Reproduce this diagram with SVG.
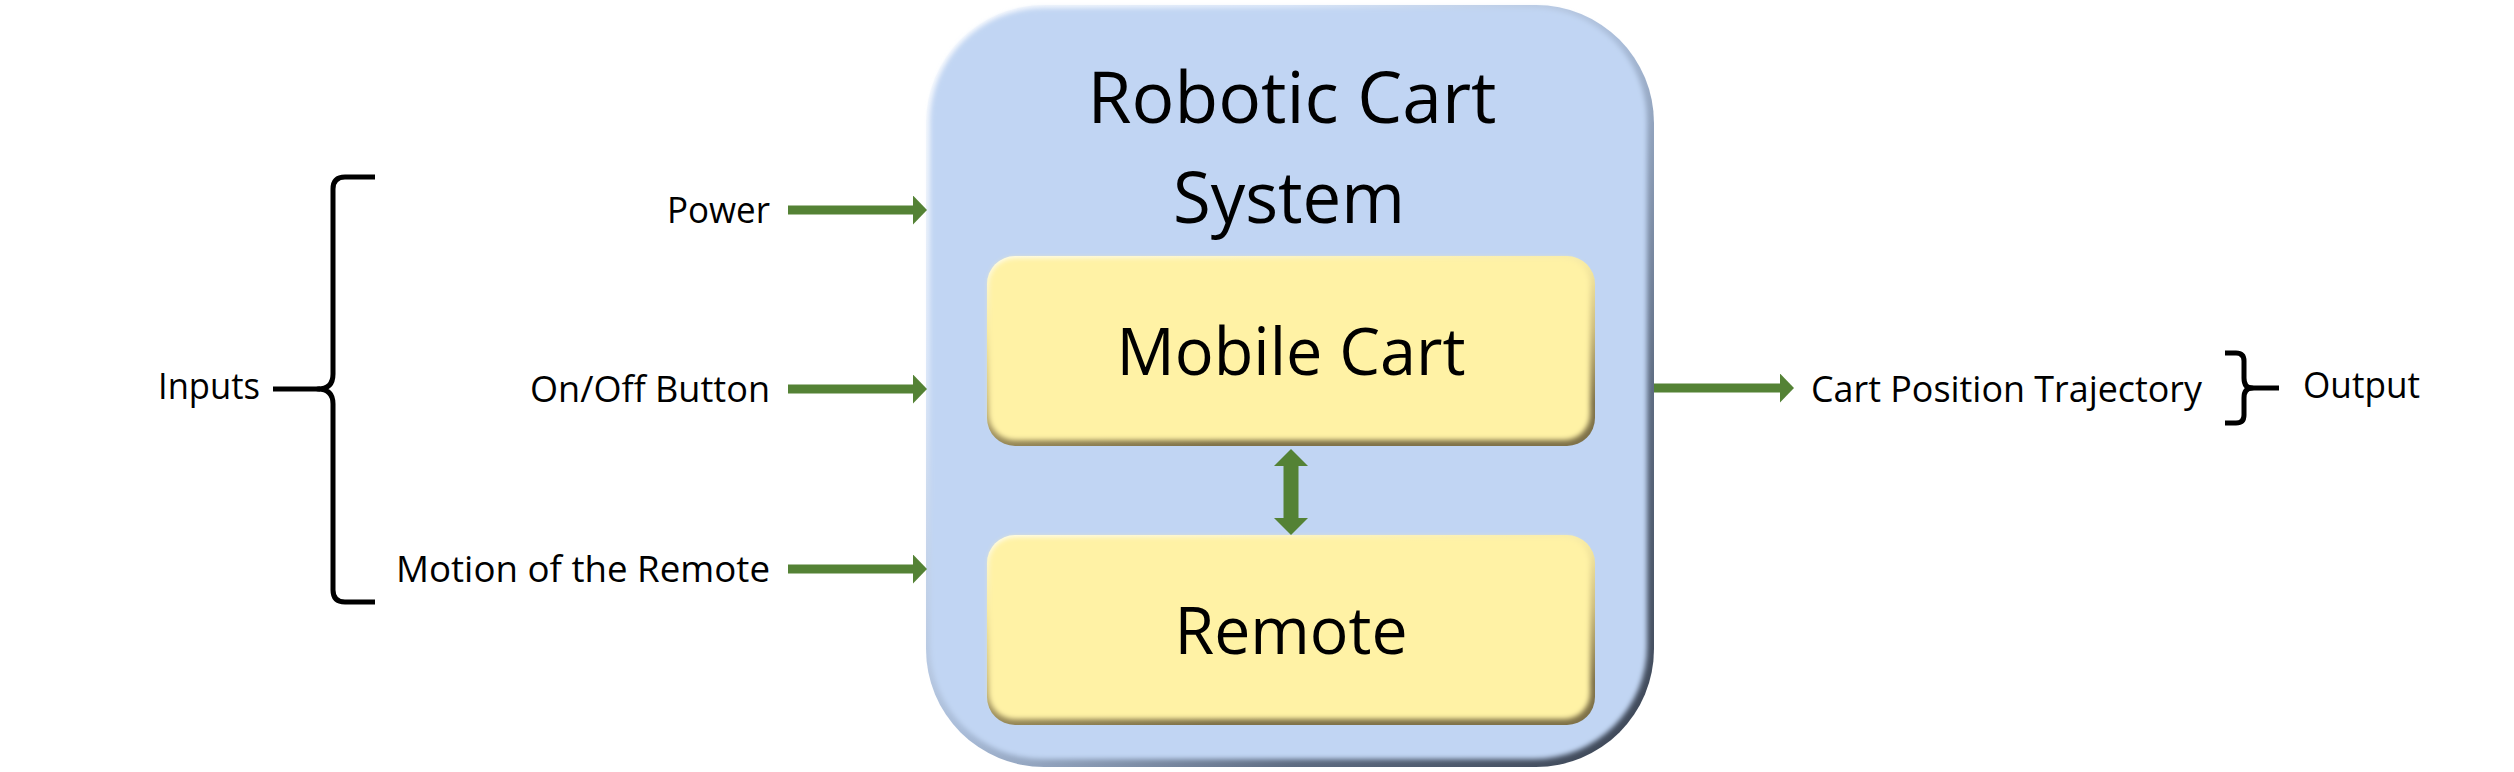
<svg xmlns="http://www.w3.org/2000/svg" width="2514" height="772" viewBox="0 0 2514 772">
<style>
  .lbl { font-family: "Open Sans", "Noto Sans", sans-serif; font-size: 36px; fill: #000; }
  .ttl { font-family: "Open Sans", "Noto Sans", sans-serif; font-size: 71px; fill: #000; }
  .box { font-family: "Open Sans", "Noto Sans", sans-serif; font-size: 66px; fill: #000; }
  .conn { stroke: #548235; stroke-width: 9; fill: none; }
  .brace { stroke: #000; stroke-width: 5; fill: none; stroke-linecap: butt; stroke-linejoin: round; }
</style>
<defs>
  <linearGradient id="gOuter" gradientUnits="objectBoundingBox" x1="0" y1="0" x2="1" y2="1">
    <stop offset="0" stop-color="#FFFFFF"/>
    <stop offset="0.25" stop-color="#DCE7F8"/>
    <stop offset="0.5" stop-color="#A9BCD8"/>
    <stop offset="0.75" stop-color="#5E6C82"/>
    <stop offset="1" stop-color="#3A4352"/>
  </linearGradient>
  <linearGradient id="gInner" gradientUnits="objectBoundingBox" x1="0" y1="0" x2="0.35" y2="1">
    <stop offset="0" stop-color="#FFFFF4"/>
    <stop offset="0.35" stop-color="#F6E9A2"/>
    <stop offset="0.65" stop-color="#CDBD7E"/>
    <stop offset="1" stop-color="#7E7148"/>
  </linearGradient>
  <filter id="soft" x="-5%" y="-5%" width="110%" height="110%">
    <feGaussianBlur stdDeviation="2.5"/>
  </filter>
  <marker id="ah" markerUnits="userSpaceOnUse" markerWidth="14" markerHeight="29" refX="0" refY="14.5" orient="auto" viewBox="0 0 14 29">
    <path d="M0,0 L14,14.5 L0,29 Z" fill="#548235"/>
  </marker>
  <marker id="ah2" markerUnits="userSpaceOnUse" markerWidth="17" markerHeight="34" refX="0" refY="17" orient="auto-start-reverse" viewBox="0 0 17 34">
    <path d="M0,0 L17,17 L0,34 Z" fill="#548235"/>
  </marker>
</defs>
<rect width="2514" height="772" fill="#FFFFFF"/>

<g id="robotic-cart-system">
  <rect x="926" y="5" width="728" height="762" rx="118" fill="url(#gOuter)"/>
  <rect x="930" y="8" width="717" height="751" rx="113" fill="#C1D5F3" filter="url(#soft)"/>
  <text class="ttl" x="1292" y="123" text-anchor="middle" textLength="409" lengthAdjust="spacingAndGlyphs">Robotic Cart</text>
  <text class="ttl" x="1289" y="223" text-anchor="middle" textLength="232" lengthAdjust="spacingAndGlyphs">System</text>
</g>

<g id="mobile-cart">
  <rect x="987" y="256" width="608" height="190" rx="28" fill="url(#gInner)"/>
  <rect x="989" y="258" width="601" height="182" rx="26" fill="#FFF2A5" filter="url(#soft)"/>
  <text class="box" x="1291" y="375" text-anchor="middle" textLength="349" lengthAdjust="spacingAndGlyphs">Mobile Cart</text>
</g>

<g id="remote">
  <rect x="987" y="535" width="608" height="190" rx="28" fill="url(#gInner)"/>
  <rect x="989" y="537" width="601" height="182" rx="26" fill="#FFF2A5" filter="url(#soft)"/>
  <text class="box" x="1291" y="654" text-anchor="middle" textLength="233" lengthAdjust="spacingAndGlyphs">Remote</text>
</g>

<g id="input-labels">
  <text class="lbl" x="770" y="223" text-anchor="end" textLength="103" lengthAdjust="spacingAndGlyphs">Power</text>
  <text class="lbl" x="770" y="402" text-anchor="end" textLength="240" lengthAdjust="spacingAndGlyphs">On/Off Button</text>
  <text class="lbl" x="770" y="582" text-anchor="end" textLength="374" lengthAdjust="spacingAndGlyphs">Motion of the Remote</text>
</g>

<g id="inputs">
  <path class="brace" d="M375,177 L345,177 Q333,177 333,189 L333,374 Q333,389 318,389 Q333,389 333,404 L333,590 Q333,602 345,602 L375,602"/>
  <path class="brace" d="M273,389 L320,389"/>
  <text class="lbl" x="158" y="399" textLength="102" lengthAdjust="spacingAndGlyphs">Inputs</text>
</g>

<g id="output-label">
  <text class="lbl" x="1811" y="402" textLength="391" lengthAdjust="spacingAndGlyphs">Cart Position Trajectory</text>
</g>

<g id="output">
  <path class="brace" d="M2225,353 L2236,353 Q2244,353 2244,361 L2244,378 Q2244,388 2252,388 Q2244,388 2244,398 L2244,415 Q2244,423 2236,423 L2225,423"/>
  <path class="brace" d="M2250,388 L2279,388"/>
  <text class="lbl" x="2303" y="398" textLength="117" lengthAdjust="spacingAndGlyphs">Output</text>
</g>

<g id="connectors">
  <line class="conn" x1="788" y1="210" x2="913" y2="210" marker-end="url(#ah)"/>
  <line class="conn" x1="788" y1="389" x2="913" y2="389" marker-end="url(#ah)"/>
  <line class="conn" x1="788" y1="569" x2="913" y2="569" marker-end="url(#ah)"/>
  <line class="conn" x1="1654" y1="388" x2="1780" y2="388" marker-end="url(#ah)"/>
  <line class="conn" x1="1291" y1="466" x2="1291" y2="518" style="stroke-width:15" marker-start="url(#ah2)" marker-end="url(#ah2)"/>
</g>
</svg>
